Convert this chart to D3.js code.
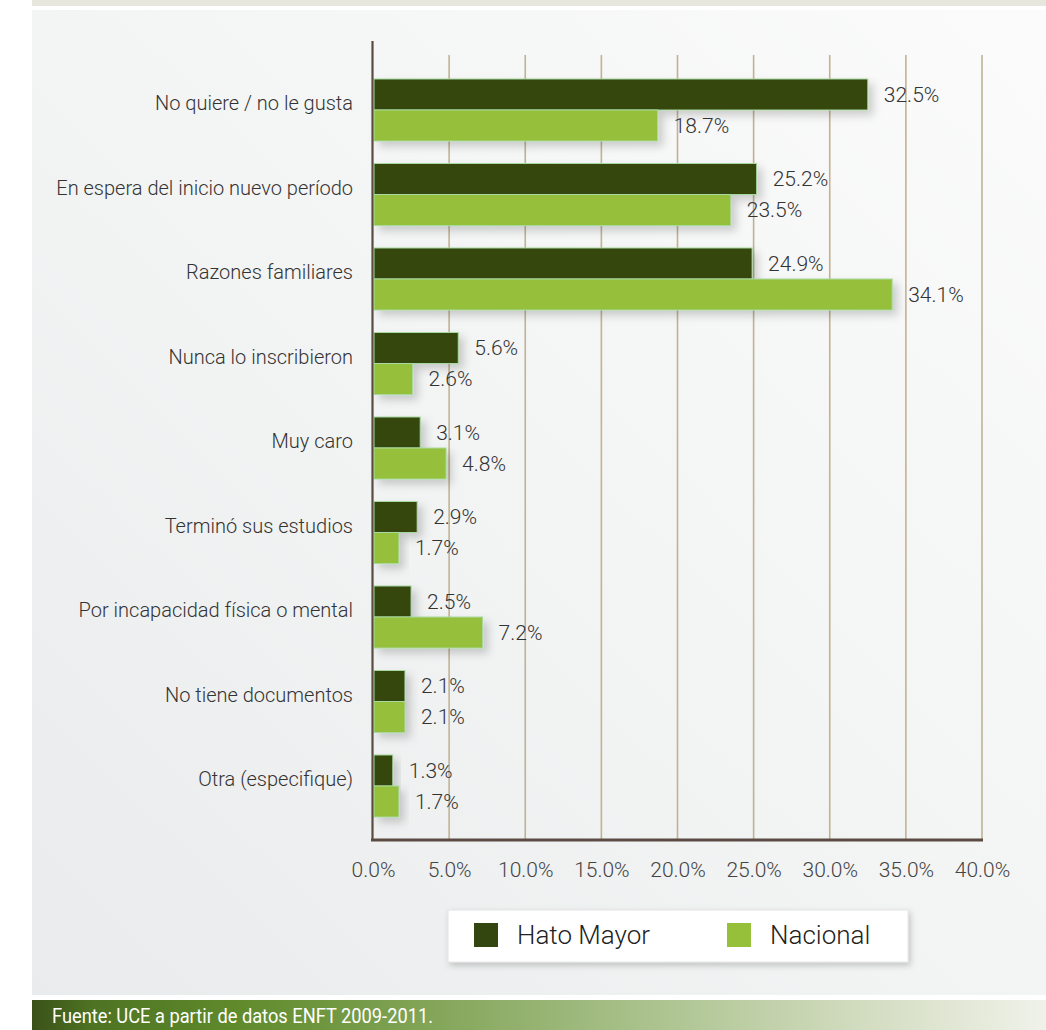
<!DOCTYPE html>
<html><head><meta charset="utf-8">
<script src="https://cdn.jsdelivr.net/npm/d3@7"></script>
<style>
html,body{margin:0;padding:0;background:#fff;}
svg{display:block;}
text{font-family:Roboto,"Open Sans",sans-serif;font-weight:300;}
</style></head>
<body>
<script>
const categories = ["No quiere / no le gusta","En espera del inicio nuevo período","Razones familiares","Nunca lo inscribieron","Muy caro","Terminó sus estudios","Por incapacidad física o mental","No tiene documentos","Otra (especifique)"];
const seriesNames = ["Hato Mayor","Nacional"];
const hatoMayor = [32.5,25.2,24.9,5.6,3.1,2.9,2.5,2.1,1.3];
const nacional = [18.7,23.5,34.1,2.6,4.8,1.7,7.2,2.1,1.7];
const xTicks = [0,5,10,15,20,25,30,35,40];
const footerText = "Fuente: UCE a partir de datos ENFT 2009-2011.";

const W=1046,H=1030;
const colors={"Hato Mayor":"#34460f","Nacional":"#96c03a"};

const svg=d3.select("body").append("svg").attr("width",W).attr("height",H);
const defs=svg.append("defs");
const bg=defs.append("linearGradient").attr("id","bg").attr("x1","0").attr("y1","1").attr("x2","1").attr("y2","0");
bg.append("stop").attr("offset","0").attr("stop-color","#eaebec");
bg.append("stop").attr("offset","0.5").attr("stop-color","#f3f4f4");
bg.append("stop").attr("offset","1").attr("stop-color","#fbfbfb");
const fg=defs.append("linearGradient").attr("id","foot").attr("x1","0").attr("x2","1");
[["0","#3a5118"],["0.06","#4e7323"],["0.2","#5f8a2b"],["0.4","#84a65a"],["0.6","#a9c18b"],["0.8","#cfdabc"],["1","#f0f2e9"]].forEach(s=>fg.append("stop").attr("offset",s[0]).attr("stop-color",s[1]));
const sh=defs.append("filter").attr("id","shadow").attr("x","-20%").attr("y","-30%").attr("width","160%").attr("height","190%");
sh.append("feDropShadow").attr("dx",5).attr("dy",5).attr("stdDeviation",4).attr("flood-color","#000").attr("flood-opacity",0.18);
const sh2=defs.append("filter").attr("id","shadow2").attr("x","-10%").attr("y","-30%").attr("width","120%").attr("height","190%");
sh2.append("feDropShadow").attr("dx",2).attr("dy",3).attr("stdDeviation",3).attr("flood-color","#000").attr("flood-opacity",0.2);

// frame
svg.append("rect").attr("x",32).attr("y",0).attr("width",W-32).attr("height",6).attr("fill","#e8e7dd");
svg.append("rect").attr("x",32).attr("y",10).attr("width",W-32).attr("height",985).attr("fill","url(#bg)");
svg.append("rect").attr("x",32).attr("y",1000).attr("width",W-32).attr("height",30).attr("fill","url(#foot)");
svg.append("text").attr("x",52).attr("y",1023).attr("fill","#fff").attr("font-size",21).style("font-weight",400)
  .attr("textLength",381).attr("lengthAdjust","spacingAndGlyphs").text(footerText);

const x=d3.scaleLinear().domain([0,40]).range([373,982]);
const y=d3.scaleBand().domain(categories).range([67.75,828.25]).paddingInner(0.266).paddingOuter(0.133);
const yi=d3.scaleBand().domain(seriesNames).range([0,y.bandwidth()]);

// gridlines
svg.append("g").selectAll("line").data(xTicks.slice(1)).join("line")
  .attr("x1",d=>x(d)).attr("x2",d=>x(d)).attr("y1",55).attr("y2",840)
  .attr("stroke","#c2b293").attr("stroke-width",1.6);

const data=categories.map((c,i)=>({cat:c,vals:[{s:"Hato Mayor",v:hatoMayor[i]},{s:"Nacional",v:nacional[i]}]}));
const g=svg.append("g").selectAll("g").data(data).join("g").attr("transform",d=>`translate(0,${y(d.cat)})`);
g.selectAll("rect").data(d=>d.vals).join("rect")
  .attr("x",x(0)+1).attr("y",d=>yi(d.s)).attr("width",d=>x(d.v)-x(0)-1).attr("height",yi.bandwidth())
  .attr("fill",d=>colors[d.s]).attr("stroke","#a8d9a0").attr("stroke-width",1).attr("filter","url(#shadow)");
g.selectAll("text.v").data(d=>d.vals).join("text").attr("class","v")
  .attr("x",d=>x(d.v)+16).attr("y",d=>yi(d.s)+yi.bandwidth()/2).attr("dy","0.35em")
  .attr("font-size",21).attr("fill","#333").text(d=>d.v.toFixed(1)+"%");

// axes
const xAxis=svg.append("g").attr("transform","translate(0,840)").call(d3.axisBottom(x).tickValues(xTicks).tickSize(0).tickPadding(22).tickFormat(d=>d.toFixed(1)+"%"));
xAxis.select(".domain").remove();
xAxis.selectAll("text").attr("font-size",21).attr("fill","#444").style("font-family","Roboto,sans-serif");
svg.append("line").attr("x1",371).attr("x2",983).attr("y1",840).attr("y2",840).attr("stroke","#5b4b42").attr("stroke-width",3);
const yAxis=svg.append("g").attr("transform","translate(353,0)").call(d3.axisLeft(y).tickSize(0).tickPadding(0));
yAxis.select(".domain").remove();
yAxis.selectAll("text").attr("font-size",20).attr("fill","#333").style("font-family","Roboto,sans-serif");
yAxis.selectAll(".tick").attr("transform",d=>`translate(0,${y(d)+y.bandwidth()/2-6})`);
svg.append("line").attr("x1",372.5).attr("x2",372.5).attr("y1",41).attr("y2",841).attr("stroke","#5b4b42").attr("stroke-width",2.2);

// legend
const lg=svg.append("g").attr("transform","translate(448,910)");
lg.append("rect").attr("width",460).attr("height",52).attr("fill","#fff").attr("stroke","#e4e4e4").attr("filter","url(#shadow2)");
const li=lg.selectAll("g").data(seriesNames).join("g").attr("transform",(d,i)=>`translate(${26+i*253},13)`);
li.append("rect").attr("width",24).attr("height",24).attr("fill",d=>colors[d]);
li.append("text").attr("x",43).attr("y",12).attr("dy","0.36em").attr("font-size",26).attr("fill","#222").text(d=>d);
</script>
</body></html>
